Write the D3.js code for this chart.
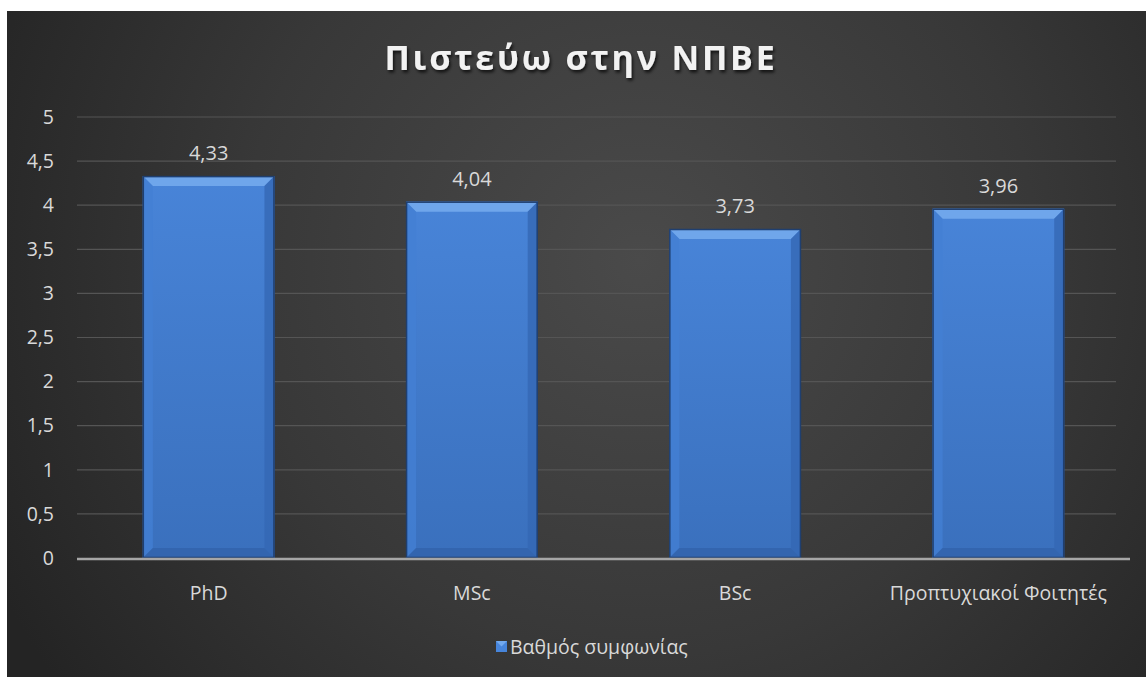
<!DOCTYPE html>
<html>
<head>
<meta charset="utf-8">
<script src="https://cdn.jsdelivr.net/npm/d3@7"></script>
<style>
  html, body { margin: 0; padding: 0; background: #ffffff; }
  svg { display: block; }
</style>
</head>
<body>
<svg id="chart" width="1146" height="677"></svg>
<script>
const categories = ["PhD", "MSc", "BSc", "Προπτυχιακοί Φοιτητές"];
const values = [4.33, 4.04, 3.73, 3.96];
const tickValues = [0, 0.5, 1, 1.5, 2, 2.5, 3, 3.5, 4, 4.5, 5];
const seriesName = "Βαθμός συμφωνίας";
const chartTitle = "Πιστεύω στην ΝΠΒΕ";

const fmt = v => String(v).replace(".", ",");

const svg = d3.select("#chart");
const W = 1146, H = 677;
const defs = svg.append("defs");

// Dark radial background
const bg = defs.append("radialGradient").attr("id", "bg")
  .attr("gradientUnits", "userSpaceOnUse")
  .attr("cx", 640).attr("cy", 260).attr("r", 720);
bg.append("stop").attr("offset", "0%").attr("stop-color", "#4a4a4a");
bg.append("stop").attr("offset", "55%").attr("stop-color", "#383838");
bg.append("stop").attr("offset", "100%").attr("stop-color", "#242424");

// Bar face gradient
const face = defs.append("linearGradient").attr("id", "face")
  .attr("x1", 0).attr("y1", 0).attr("x2", 0).attr("y2", 1);
face.append("stop").attr("offset", "0%").attr("stop-color", "#4884d8");
face.append("stop").attr("offset", "100%").attr("stop-color", "#3a70bd");

const shadow = defs.append("filter").attr("id", "tshadow")
  .attr("x", "-10%").attr("y", "-30%").attr("width", "120%").attr("height", "160%");
shadow.append("feDropShadow").attr("dx", 1.5).attr("dy", 2.5).attr("stdDeviation", 1.5)
  .attr("flood-color", "#000").attr("flood-opacity", 0.7);

svg.append("rect").attr("x", 7).attr("y", 11).attr("width", W - 7).attr("height", H - 11)
  .attr("fill", "url(#bg)");

const plot = { left: 77, right: 1130, top: 117, bottom: 558 };

const x = d3.scaleBand().domain(categories)
  .range([plot.left, plot.right]).paddingInner(0.5).paddingOuter(0.25);
const y = d3.scaleLinear().domain([0, 5]).range([plot.bottom, plot.top]);

const font = "'Open Sans', 'Noto Sans', sans-serif";

// Gridlines
svg.append("g").selectAll("line").data(tickValues.filter(t => t > 0)).join("line")
  .attr("x1", plot.left).attr("x2", plot.right - 14)
  .attr("y1", d => y(d)).attr("y2", d => y(d))
  .attr("stroke", "#555555").attr("stroke-width", 1.2);

// Y axis via d3 axis, restyled
const yAxis = svg.append("g").attr("transform", `translate(${plot.left - 10},0)`)
  .call(d3.axisLeft(y).tickValues(tickValues).tickFormat(fmt).tickSize(0).tickPadding(13));
yAxis.select(".domain").remove();
yAxis.selectAll("text").attr("fill", "#d9d9d9").attr("font-size", 19.5)
  .attr("font-family", font);

// Bars with bevelled edges
const bev = 10;
const bars = svg.append("g").selectAll("g").data(categories.map((c, i) => ({ c, v: values[i] }))).join("g");
bars.each(function (d) {
  const g = d3.select(this);
  const x0 = x(d.c), x1 = x0 + x.bandwidth();
  const y0 = y(d.v), y1 = y(0);
  g.append("rect").attr("x", x0).attr("y", y0).attr("width", x1 - x0).attr("height", y1 - y0)
    .attr("fill", "url(#face)");
  // top bevel
  g.append("path").attr("d", `M${x0},${y0}L${x1},${y0}L${x1 - bev},${y0 + bev}L${x0 + bev},${y0 + bev}Z`)
    .attr("fill", "#6fa6eb");
  // left bevel
  g.append("path").attr("d", `M${x0},${y0}L${x0 + bev},${y0 + bev}L${x0 + bev},${y1 - bev}L${x0},${y1}Z`)
    .attr("fill", "#4480d3").attr("opacity", 0.8);
  // right bevel
  g.append("path").attr("d", `M${x1},${y0}L${x1 - bev},${y0 + bev}L${x1 - bev},${y1 - bev}L${x1},${y1}Z`)
    .attr("fill", "#3468b4").attr("opacity", 0.8);
  // bottom bevel
  g.append("path").attr("d", `M${x0},${y1}L${x0 + bev},${y1 - bev}L${x1 - bev},${y1 - bev}L${x1},${y1}Z`)
    .attr("fill", "#3263ab").attr("opacity", 0.8);
  g.append("rect").attr("x", x0 + 0.5).attr("y", y0 + 0.5).attr("width", x1 - x0 - 1).attr("height", y1 - y0 - 1)
    .attr("fill", "none").attr("stroke", "#1f3f70").attr("stroke-width", 1.5);
  g.append("text").attr("x", (x0 + x1) / 2).attr("y", y0 - 16)
    .attr("text-anchor", "middle").attr("fill", "#d9d9d9").attr("font-size", 20)
    .attr("font-family", font).text(fmt(d.v));
});

// X axis line
svg.append("line").attr("x1", plot.left).attr("x2", plot.right)
  .attr("y1", y(0) + 1).attr("y2", y(0) + 1).attr("stroke", "#a6a6a6").attr("stroke-width", 2.5);

// Category labels
const xAxis = svg.append("g").attr("transform", `translate(0,${y(0)})`)
  .call(d3.axisBottom(x).tickSize(0).tickPadding(28));
xAxis.select(".domain").remove();
xAxis.selectAll("text").attr("fill", "#d9d9d9").attr("font-size", 19.5).attr("font-family", font);

// Title
svg.append("text").attr("x", 581).attr("y", 70).attr("text-anchor", "middle")
  .attr("fill", "#f2f2f2").attr("font-size", 34).attr("font-weight", "bold")
  .attr("letter-spacing", 2.8).attr("font-family", font).attr("filter", "url(#tshadow)")
  .text(chartTitle);

// Legend
const lg = svg.append("g").attr("transform", "translate(496,641)");
lg.append("rect").attr("x", 0).attr("y", 0).attr("width", 11).attr("height", 11).attr("fill", "#4785db");
lg.append("path").attr("d", "M0,0L11,0L5.5,5.5Z").attr("fill", "#72a9ee");
lg.append("text").attr("x", 14).attr("y", 13).attr("fill", "#d9d9d9").attr("font-size", 19.5)
  .attr("font-family", font).text(seriesName);
</script>
</body>
</html>
